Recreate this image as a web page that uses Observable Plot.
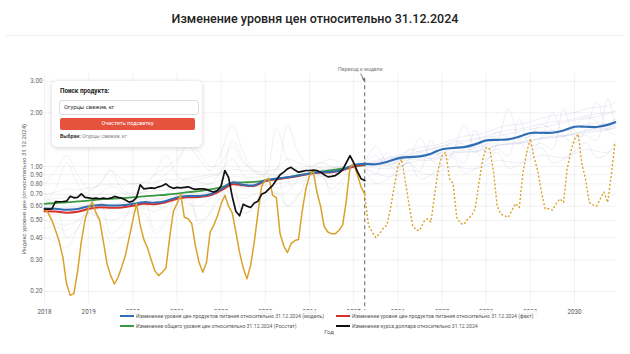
<!DOCTYPE html>
<html><head><meta charset="utf-8">
<script src="https://cdn.jsdelivr.net/npm/d3@7"></script>
<script src="https://cdn.jsdelivr.net/npm/@observablehq/plot@0.6"></script>
<style>
body{margin:0;background:#fff;font-family:Roboto,"Noto Sans",sans-serif;}
#wrap{position:relative;width:630px;height:354px;overflow:hidden;background:#fff;}
#title{position:absolute;left:0;top:11px;width:630px;text-align:center;font-size:12.5px;font-weight:500;color:#222;}
#sep{position:absolute;left:6px;right:6px;top:35px;height:1px;background:#eee;}
#chart{position:absolute;left:0;top:36px;}
#ylab{position:absolute;left:23px;top:189px;transform:translate(-50%,-50%) rotate(-90deg);white-space:nowrap;font-size:6px;color:#666;}
#xlab{position:absolute;left:329px;top:331px;transform:translate(-50%,-50%);font-size:6px;color:#555;}
#legend{position:absolute;left:108px;top:310px;width:438px;height:23px;background:rgba(255,255,255,0.85);}
.li{position:absolute;height:8px;font-size:5.5px;color:#555;white-space:nowrap;line-height:8px;}
.li .sw{position:absolute;left:0;top:3px;width:14px;height:2px;}
.li .tx{position:absolute;left:16px;top:0;display:inline-block;transform-origin:0 50%;}
#card{position:absolute;left:52px;top:81px;width:150px;height:66px;background:#fff;border-radius:5px;box-shadow:0 1px 5px rgba(0,0,0,0.18);}
#card .h{position:absolute;left:8px;top:6px;font-size:6.3px;font-weight:700;color:#222;}
#card .inp{position:absolute;left:7px;top:19px;width:134px;height:13px;border:1px solid #ddd;border-radius:3px;font-size:5.8px;line-height:13px;padding-left:4px;color:#333;}
#card .btn{position:absolute;left:8px;top:37px;width:135px;height:11.5px;background:#e5533f;border-radius:2px;color:#fff;font-size:5.5px;line-height:11.5px;text-align:center;}
#card .sel{position:absolute;left:8px;top:52px;font-size:5.2px;color:#888;}
#card .sel b{color:#333;}
</style></head>
<body><div id="wrap">
<div id="title">Изменение уровня цен относительно 31.12.2024</div>
<div id="sep"></div>
<div id="chart"></div>
<div id="ylab">Индекс уровня цен (относительно 31.12.2024)</div>
<div id="legend"></div>
<div id="xlab">Год</div>
<div id="card">
  <div class="h">Поиск продукта:</div>
  <div class="inp">Огурцы свежие, кг</div>
  <div class="btn">Очистить подсветку</div>
  <div class="sel"><b>Выбран:</b> Огурцы свежие, кг</div>
</div>
</div>
<script>
// ---------- data ----------
const xTickYears = [2018,2019,2020,2021,2022,2023,2024,2025,2026,2027,2028,2029,2030];
const yTickValues = [0.2,0.3,0.4,0.5,0.6,0.7,0.8,0.9,1,2,3];
const transitionT = 2025.25;

// quarterly time grids
const histQ = [2018,2018.25,2018.5,2018.75,2019,2019.25,2019.5,2019.75,2020,2020.25,2020.5,2020.75,2021,2021.25,2021.5,2021.75,2022,2022.25,2022.5,2022.75,2023,2023.25,2023.5,2023.75,2024,2024.25,2024.5,2024.75,2025,2025.25];
const fcQ = [2025.25,2025.5,2025.75,2026,2026.25,2026.5,2026.75,2027,2027.25,2027.5,2027.75,2028,2028.25,2028.5,2028.75,2029,2029.25,2029.5,2029.75,2030,2030.25,2030.5,2030.75,2030.92];

// food prices, fact (red) and model (blue), CPI Rosstat (green): quarterly, history
const foodFact = [0.562,0.560,0.552,0.558,0.580,0.592,0.588,0.590,0.603,0.618,0.615,0.630,0.660,0.672,0.675,0.690,0.735,0.795,0.785,0.780,0.830,0.850,0.865,0.885,0.910,0.925,0.930,0.955,1.0,1.025];
const foodModelHist = [0.582,0.580,0.572,0.578,0.600,0.610,0.605,0.607,0.618,0.632,0.628,0.642,0.672,0.683,0.684,0.700,0.748,0.815,0.790,0.785,0.838,0.856,0.870,0.890,0.915,0.930,0.935,0.960,1.02,1.035];
const cpiRosstat = [0.618,0.625,0.630,0.638,0.645,0.655,0.660,0.665,0.672,0.680,0.688,0.695,0.705,0.718,0.728,0.745,0.765,0.810,0.815,0.820,0.835,0.850,0.870,0.895,0.915,0.935,0.955,0.975,1.0,1.02];
const foodModelFc = [1.035,1.03,1.06,1.11,1.13,1.14,1.18,1.25,1.27,1.285,1.33,1.40,1.41,1.42,1.47,1.54,1.545,1.545,1.59,1.67,1.67,1.665,1.71,1.77];

// monthly series, history from Jan 2018 to Apr 2025
const usd = [
0.578,0.578,0.58,0.637,0.635,0.637,0.64,0.682,0.668,0.672,0.703,0.672,
0.668,0.662,0.665,0.66,0.665,0.66,0.665,0.68,0.672,0.665,0.65,0.632,
0.64,0.67,0.79,0.75,0.755,0.76,0.755,0.77,0.78,0.80,0.77,0.755,
0.765,0.76,0.765,0.77,0.755,0.745,0.75,0.75,0.745,0.73,0.72,0.735,
0.78,0.95,0.87,0.68,0.56,0.53,0.615,0.60,0.59,0.625,0.64,0.70,
0.715,0.75,0.785,0.84,0.90,0.93,0.97,0.99,0.955,0.93,0.94,0.95,
0.95,0.955,0.95,0.93,0.90,0.875,0.88,0.89,0.92,0.96,1.05,1.15,
1.05,0.94,0.855,0.835];
const cucumberHist = [
0.58,0.55,0.50,0.44,0.38,0.31,0.22,0.19,0.195,0.26,0.38,0.50,
0.592,0.632,0.55,0.50,0.38,0.285,0.245,0.22,0.24,0.275,0.32,0.40,
0.50,0.62,0.47,0.39,0.35,0.30,0.26,0.245,0.256,0.27,0.40,0.56,
0.62,0.70,0.52,0.51,0.48,0.36,0.29,0.256,0.29,0.43,0.47,0.53,
0.62,0.69,0.60,0.55,0.43,0.33,0.27,0.235,0.28,0.38,0.55,0.78,
0.84,0.86,0.69,0.67,0.42,0.36,0.33,0.37,0.385,0.39,0.56,0.75,
0.89,0.95,0.72,0.60,0.46,0.43,0.42,0.42,0.44,0.47,0.645,0.99,
1.035,0.90,0.77,0.70];
// monthly forecast from Apr 2025 to Dec 2030
const cucumberFc = [
0.70,0.47,0.43,0.40,0.42,0.45,0.47,0.58,0.77,
1.00,1.10,0.83,0.62,0.47,0.44,0.44,0.49,0.51,0.49,0.70,0.97,
1.15,1.20,0.86,0.80,0.52,0.48,0.475,0.51,0.53,0.58,0.80,1.08,
1.28,1.25,0.93,0.60,0.54,0.53,0.52,0.57,0.62,0.59,0.93,1.20,
1.43,1.12,0.95,0.72,0.58,0.58,0.57,0.62,0.66,0.63,0.97,1.22,
1.42,1.52,1.03,0.85,0.63,0.61,0.60,0.66,0.72,0.63,0.90,1.37];

// other products (grey, history, quarterly)
const bgHist = [
[0.55,0.62,0.40,0.45,0.60,0.65,0.42,0.47,0.62,0.68,0.44,0.50,0.70,0.75,0.48,0.55,0.78,0.85,0.55,0.60,0.85,0.90,0.60,0.68,0.92,0.98,0.70,0.80,1.0,1.05],
[0.60,0.62,0.65,0.70,0.72,0.80,0.95,0.75,0.70,0.72,0.80,0.90,1.05,1.30,1.10,0.95,1.20,1.72,1.20,0.95,0.90,1.65,1.10,0.95,0.90,0.95,0.98,1.0,1.0,1.08],
[0.58,0.585,0.59,0.60,0.61,0.62,0.62,0.63,0.64,0.66,0.66,0.67,0.69,0.70,0.71,0.72,0.76,0.82,0.80,0.80,0.83,0.85,0.87,0.89,0.91,0.93,0.95,0.97,1.0,1.02],
[0.53,0.54,0.55,0.56,0.57,0.58,0.58,0.59,0.60,0.61,0.62,0.64,0.66,0.67,0.68,0.70,0.74,0.78,0.76,0.76,0.79,0.80,0.82,0.85,0.88,0.90,0.92,0.95,1.0,1.03],
[0.65,0.66,0.67,0.68,0.69,0.70,0.70,0.71,0.71,0.72,0.73,0.74,0.76,0.77,0.78,0.80,0.84,0.88,0.87,0.87,0.88,0.89,0.90,0.92,0.94,0.95,0.97,0.98,1.0,1.01],
[0.50,0.48,0.47,0.50,0.55,0.58,0.56,0.55,0.56,0.60,0.62,0.70,0.80,0.85,0.82,0.80,0.95,1.10,0.90,0.80,0.78,0.76,0.78,0.82,0.85,0.88,0.90,0.94,1.0,1.04],
[0.45,0.46,0.44,0.50,0.55,0.52,0.50,0.52,0.55,0.58,0.56,0.60,0.65,0.62,0.60,0.66,0.75,0.70,0.66,0.70,0.72,0.70,0.72,0.85,0.95,0.88,0.84,0.92,1.0,1.06],
[0.80,0.95,1.15,0.90,0.75,0.80,0.95,0.85,0.80,0.82,0.90,1.00,1.10,1.35,1.20,1.00,1.05,1.30,1.05,0.95,0.92,0.98,1.10,1.05,1.00,1.05,1.10,1.02,1.0,1.0],
[0.40,0.38,0.35,0.45,0.55,0.50,0.38,0.40,0.45,0.55,0.42,0.48,0.58,0.65,0.50,0.55,0.68,0.75,0.55,0.58,0.65,0.72,0.60,0.70,0.80,0.90,0.75,0.85,1.0,1.10],
[0.57,0.57,0.58,0.59,0.60,0.61,0.61,0.62,0.63,0.64,0.65,0.66,0.68,0.69,0.70,0.72,0.75,0.80,0.79,0.79,0.82,0.84,0.86,0.88,0.90,0.92,0.94,0.96,1.0,1.02],
[0.70,0.72,0.75,0.74,0.76,0.78,0.80,0.79,0.80,0.81,0.82,0.84,0.85,0.86,0.88,0.90,0.92,0.96,0.95,0.94,0.95,0.96,0.97,0.98,0.98,0.99,0.99,1.0,1.0,1.01],
[0.62,0.75,1.05,0.80,0.66,0.70,0.78,0.72,0.68,0.74,0.92,1.15,0.90,0.82,0.85,0.88,0.92,1.40,1.10,0.92,0.90,0.95,1.70,1.20,1.00,1.05,1.00,0.98,1.0,1.05]];
// other products (lavender, model forecast, quarterly)
const bgFc = [
[1.02,1.05,1.08,1.12,1.18,1.22,1.25,1.30,1.36,1.40,1.43,1.48,1.55,1.60,1.62,1.67,1.74,1.78,1.80,1.85,1.92,1.97,2.00,2.05],
[1.0,0.98,0.97,1.00,1.05,1.08,1.08,1.12,1.18,1.20,1.21,1.25,1.31,1.34,1.35,1.39,1.45,1.48,1.49,1.53,1.60,1.63,1.64,1.70],
[1.05,1.30,1.05,0.95,1.10,1.45,1.10,1.00,1.20,1.70,1.25,1.10,1.35,2.10,1.40,1.20,1.45,2.00,1.50,1.35,1.60,2.30,1.60,1.50],
[1.02,1.04,1.06,1.09,1.11,1.13,1.16,1.19,1.21,1.23,1.26,1.30,1.32,1.34,1.37,1.41,1.43,1.45,1.48,1.52,1.55,1.57,1.60,1.64],
[0.98,0.92,0.88,0.90,0.95,0.93,0.90,0.95,1.00,0.98,0.97,1.02,1.08,1.06,1.05,1.10,1.16,1.14,1.12,1.18,1.25,1.22,1.20,1.30],
[1.04,1.08,1.12,1.15,1.22,1.28,1.30,1.35,1.42,1.48,1.50,1.55,1.64,1.70,1.72,1.78,1.86,1.92,1.95,2.00,2.10,2.15,2.18,2.28],
[1.0,0.90,1.20,1.00,1.05,0.95,1.40,1.10,1.15,1.05,1.60,1.20,1.25,1.15,1.85,1.30,1.35,1.25,2.10,1.45,1.50,1.40,2.40,1.65],
[1.03,1.04,1.03,1.07,1.13,1.16,1.15,1.20,1.26,1.29,1.28,1.33,1.40,1.43,1.42,1.48,1.56,1.59,1.58,1.64,1.72,1.75,1.74,1.84],
[0.97,0.80,0.85,0.95,1.05,0.85,0.90,1.02,1.12,0.92,0.97,1.08,1.20,0.98,1.03,1.15,1.28,1.05,1.10,1.22,1.36,1.12,1.18,1.38],
[1.03,1.06,1.10,1.14,1.16,1.20,1.26,1.30,1.32,1.36,1.42,1.46,1.48,1.52,1.58,1.62,1.66,1.70,1.76,1.82,1.85,1.90,1.96,2.04],
[1.01,1.02,1.02,1.05,1.09,1.10,1.11,1.14,1.19,1.21,1.22,1.26,1.31,1.33,1.34,1.38,1.44,1.46,1.47,1.52,1.58,1.60,1.61,1.66],
[1.04,1.15,1.00,1.08,1.25,1.20,1.10,1.22,1.40,1.32,1.20,1.35,1.55,1.45,1.35,1.50,1.72,1.60,1.48,1.65,1.90,1.78,1.62,1.85]];

const legendLabels = [
 "Изменение уровня цен продуктов питания относительно 31.12.2024 (модель)",
 "Изменение уровня цен продуктов питания относительно 31.12.2024 (факт)",
 "Изменение общего уровня цен относительно 31.12.2024 (Росстат)",
 "Изменение курса доллара относительно 31.12.2024"];
const legendColors = ["#2f6eb5","#d8312c","#3b9a41","#111111"];
const cucumberColor = "#daa22a";
const annotationLabel = "Переход к модели";

// ---------- tables ----------
const pair = (times, vals) => vals.map((v,i)=>({t:times[i], v}));
const monthly = (startYear, vals) => vals.map((v,i)=>({t:startYear + i/12, v}));
const histBg = bgHist.flatMap((arr,k)=>arr.map((v,i)=>({id:k, t:histQ[i], v})));
const fcBg = bgFc.flatMap((arr,k)=>arr.map((v,i)=>({id:k, t:fcQ[i], v})));
const annot = [{x: transitionT - 0.1, y: 3.5, x1: transitionT - 0.09, y1: 3.3, x2: transitionT - 0.02, y2: 3.04, text: annotationLabel}];

const chart = Plot.plot({
  width: 630, height: 318,
  marginLeft: 44, marginRight: 14, marginTop: 37.4, marginBottom: 50.5,
  style: {fontFamily: "Roboto, sans-serif", fontSize: "6.3px", color: "#666", background: "transparent", overflow: "visible"},
  x: {domain: [2018, 2030.95], label: null},
  y: {type: "log", domain: [0.17, 3.3], label: null},
  marks: [
    Plot.gridX(xTickYears, {stroke: "#000", strokeOpacity: 0.055}),
    Plot.gridY(yTickValues, {stroke: "#000", strokeOpacity: 0.055}),
    Plot.line(histBg, {x: "t", y: "v", z: "id", stroke: "#888", strokeOpacity: 0.2, strokeWidth: 0.6, curve: "catmull-rom"}),
    Plot.line(fcBg, {x: "t", y: "v", z: "id", stroke: "#8c92c4", strokeOpacity: 0.25, strokeWidth: 0.6, curve: "catmull-rom"}),
    Plot.ruleX([transitionT], {y1: 3.1, y2: 0.155, stroke: "#666", strokeWidth: 1, strokeDasharray: "4,3"}),
    Plot.line(pair(histQ, cpiRosstat), {x: "t", y: "v", stroke: legendColors[2], strokeWidth: 1.8, curve: "catmull-rom"}),
    Plot.line(pair(histQ, foodFact), {x: "t", y: "v", stroke: legendColors[1], strokeWidth: 2, curve: "catmull-rom"}),
    Plot.line(pair(histQ, foodModelHist), {x: "t", y: "v", stroke: legendColors[0], strokeWidth: 2, curve: "catmull-rom"}),
    Plot.line(pair(fcQ, foodModelFc), {x: "t", y: "v", stroke: legendColors[0], strokeWidth: 2.2, curve: "catmull-rom"}),
    Plot.line(monthly(2018, cucumberHist), {x: "t", y: "v", stroke: cucumberColor, strokeWidth: 1.5}),
    Plot.line(monthly(2025.25, cucumberFc), {x: "t", y: "v", stroke: cucumberColor, strokeWidth: 1.4, strokeDasharray: "2,2", strokeLinecap: "butt"}),
    Plot.line(monthly(2018, usd), {x: "t", y: "v", stroke: legendColors[3], strokeWidth: 1.7}),
    Plot.text(annot, {x: "x", y: "y", text: "text", fontSize: 5.2, fill: "#777"}),
    Plot.arrow(annot, {x1: "x1", y1: "y1", x2: "x2", y2: "y2", stroke: "#555", strokeWidth: 0.8, headLength: 4, bend: 10}),
    Plot.axisX({ticks: xTickYears, tickFormat: d => String(d), tickSize: 0, tickPadding: 6, label: null, fill: "#555"}),
    Plot.axisY({ticks: yTickValues, tickFormat: d3.format(".2f"), tickSize: 0, tickPadding: 2, label: null, fill: "#666"})
  ]
});
document.getElementById("chart").appendChild(chart);

// legend
const leg = document.getElementById("legend");
const pos = [[12,2],[228,2],[12,12],[228,12]];
const spans = [];
legendLabels.forEach((lab,i)=>{
  const d = document.createElement("div");
  d.className = "li";
  d.style.left = pos[i][0] + "px"; d.style.top = pos[i][1] + "px";
  d.innerHTML = `<span class="sw" style="background:${legendColors[i]}"></span><span class="tx">${lab}</span>`;
  leg.appendChild(d);
  spans.push(d.querySelector(".tx"));
});
// fit the longest item into the space before the second column, as in the reference
const w0 = spans[0].getBoundingClientRect().width;
const k = Math.min(1, 188 / w0);
spans.forEach(s => s.style.transform = `scaleX(${k})`);
</script>
</body></html>
